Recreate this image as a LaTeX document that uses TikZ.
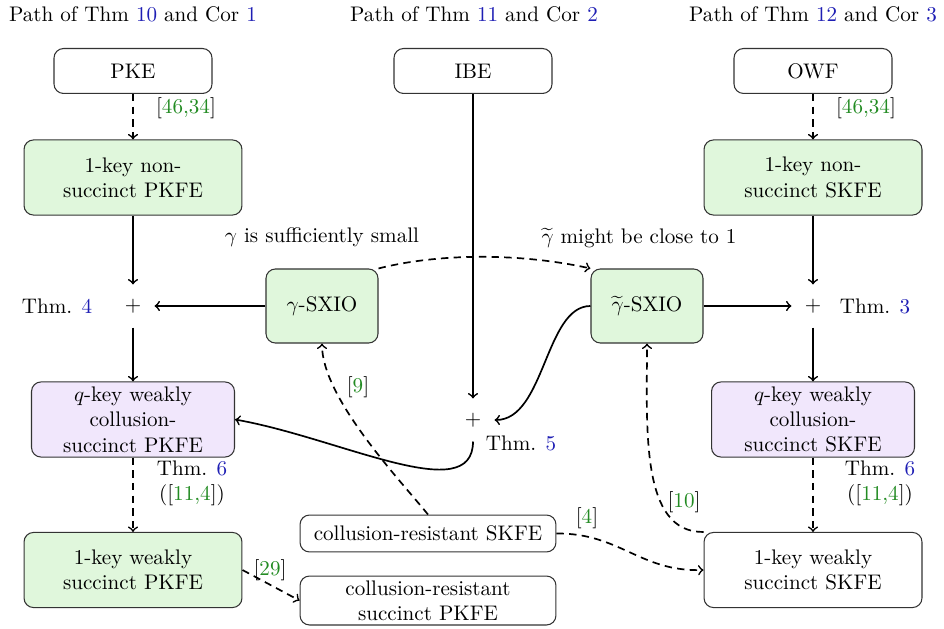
\documentclass[tikz,border=0pt]{standalone}
\usepackage{amsmath}
\definecolor{citegreen}{RGB}{34,139,34}
\definecolor{linkblue}{RGB}{30,30,180}
\definecolor{boxgreen}{RGB}{224,247,220}
\definecolor{boxpurple}{RGB}{241,231,252}
\newcommand\cit[1]{[\textcolor{citegreen}{#1}]}
\newcommand\lnk[1]{\textcolor{linkblue}{#1}}
\begin{document}
\begin{tikzpicture}[x=0.474pt,y=0.474pt,
  box/.style={draw=black!80,line width=0.5pt,rounded corners=4.5pt,align=center,inner sep=0pt},
  gbox/.style={box,fill=boxgreen},
  pbox/.style={box,fill=boxpurple},
  plus/.style={minimum size=20pt,inner sep=0pt},
  lbl/.style={inner sep=0pt,align=center},
  arr/.style={thick,->},
  darr/.style={thick,->,dash pattern=on 3.5pt off 2.5pt}]
\useasboundingbox (0,0) rectangle (944,628);
% titles
\node[lbl] (t1) at (133,614) {Path of Thm \lnk{10} and Cor \lnk{1}};
\node[lbl] (t2) at (474,614) {Path of Thm \lnk{11} and Cor \lnk{2}};
\node[lbl] (t3) at (813,614) {Path of Thm \lnk{12} and Cor \lnk{3}};
% top boxes
\node[box,minimum width=74.9pt,minimum height=21.3pt] (pke) at (133,557) {PKE};
\node[box,minimum width=74.9pt,minimum height=21.3pt] (ibe) at (473,557) {IBE};
\node[box,minimum width=74.9pt,minimum height=21.3pt] (owf) at (813,557) {OWF};
\node[gbox,minimum width=103.3pt,minimum height=35.6pt] (nspk) at (133,450.5) {1-key non-\\succinct PKFE};
\node[gbox,minimum width=103.3pt,minimum height=35.6pt] (nssk) at (813,450.5) {1-key non-\\succinct SKFE};
% middle row
\node[plus] (p4) at (133,322) {$+$};
\node[plus] (p3) at (813,322) {$+$};
\node[lbl] (thm4) at (57,322) {Thm. \lnk{4}};
\node[lbl] (thm3) at (875,322) {Thm. \lnk{3}};
\node[gbox,minimum width=53.1pt,minimum height=35.1pt] (gs) at (322,322) {$\gamma$-SXIO};
\node[gbox,minimum width=53.1pt,minimum height=35.1pt] (gts) at (647,322) {$\widetilde{\gamma}$-SXIO};
\node[lbl] (gsl) at (322,391) {$\gamma$ is sufficiently small};
\node[lbl] (gtsl) at (639,390) {$\widetilde{\gamma}$ might be close to 1};
% q-key row
\node[pbox,minimum width=96.2pt,minimum height=35.6pt] (qp) at (133,208.5) {$q$-key weakly\\collusion-\\succinct PKFE};
\node[pbox,minimum width=96.2pt,minimum height=35.6pt] (qs) at (813,208.5) {$q$-key weakly\\collusion-\\succinct SKFE};
\node[plus] (p5) at (473,208) {$+$};
\node[lbl] (thm5) at (521,185) {Thm. \lnk{5}};
% bottom
\node[gbox,minimum width=103.3pt,minimum height=35.6pt] (wp) at (133,58) {1-key weakly\\succinct PKFE};
\node[box,minimum width=103.3pt,minimum height=35.6pt] (ws) at (813,58) {1-key weakly\\succinct SKFE};
\node[box,minimum width=121.3pt,minimum height=17.5pt] (crs) at (428,94.5) {collusion-resistant SKFE};
\node[box,minimum width=121.3pt,minimum height=23.2pt] (crsp) at (428,27.5) {collusion-resistant\\succinct PKFE};
% labels
\node[lbl] (c1) at (186,520) {\cit{46,34}};
\node[lbl] (c2) at (866,520) {\cit{46,34}};
\node[lbl] (c3) at (192,145) {Thm. \lnk{6}\\(\cit{11,4})};
\node[lbl] (c4) at (880,145) {Thm. \lnk{6}\\(\cit{11,4})};
\node[lbl] (c5) at (358,241) {\cit{9}};
\node[lbl] (c6) at (270,58) {\cit{29}};
\node[lbl] (c7) at (587,110) {\cit{4}};
\node[lbl] (c8) at (684,126) {\cit{10}};
% edges left
\draw[darr] (pke) -- (nspk);
\draw[arr] (nspk) -- (p4);
\draw[arr] (gs) -- (p4);
\draw[arr] (p4) -- (qp);
\draw[darr] (qp) -- (wp);
\draw[darr] (wp.east) -- (crsp.west);
% middle
\draw[arr] (ibe) -- (p5);
\draw[arr] (gts.west) .. controls (545,322) and (545,208) .. (p5.east);
\draw[arr] (p5.south) .. controls (473,120) and (340,190) .. (qp.east);
\draw[darr] (gs.north east) .. controls (440,375) and (520,375) .. (gts.north west);
\draw[darr] (crs.north) .. controls (400,148) and (322,230) .. (gs.south);
\draw[darr] (crs.east) .. controls (620,95) and (640,56) .. (ws.west);
\draw[darr] (ws.north west) .. controls (640,95) and (647,200) .. (gts.south);
% right
\draw[darr] (owf) -- (nssk);
\draw[arr] (nssk) -- (p3);
\draw[arr] (gts) -- (p3);
\draw[arr] (p3) -- (qs);
\draw[darr] (qs) -- (ws);
\end{tikzpicture}
\end{document}
